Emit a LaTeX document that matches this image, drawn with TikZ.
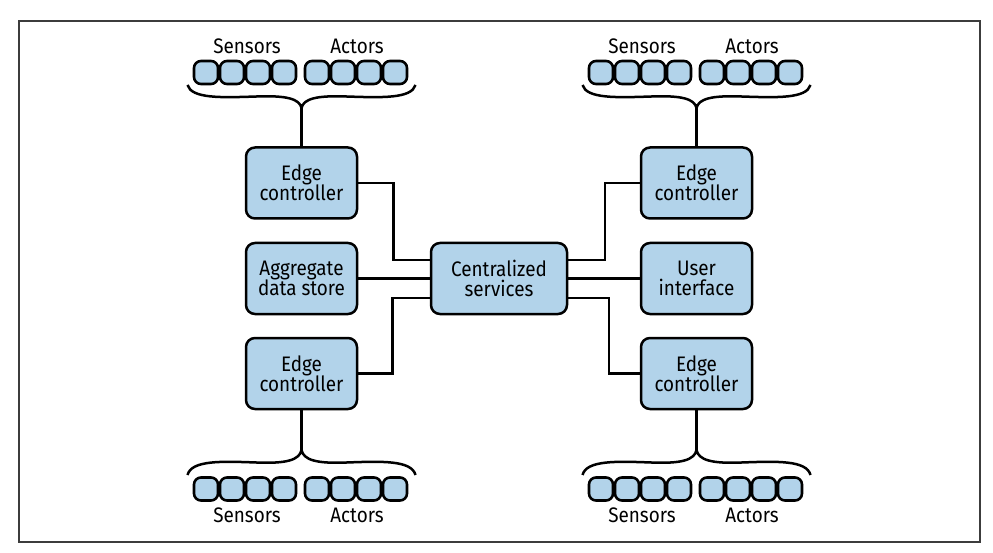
\documentclass[tikz,border=0pt]{standalone}
\usepackage{fontspec}
\setmainfont{Fira Sans}[FakeStretch=0.9]
\usepackage{tikz}
\usetikzlibrary{calc}
\definecolor{boxblue}{RGB}{178,211,234}
\definecolor{framegray}{RGB}{60,60,60}
\tikzset{
	box/.style={draw, line width=2.5pt, fill=boxblue, rounded corners=9pt,
		minimum width=111pt, minimum height=71pt, align=center, inner sep=2pt,
		font=\fontsize{21}{20.5}\selectfont},
	dev/.style={draw, line width=2.6pt, fill=boxblue, rounded corners=7pt,
		minimum width=24pt, minimum height=23pt, inner sep=0pt},
	lbl/.style={font=\fontsize{21}{21}\selectfont, inner sep=0pt},
	wire/.style={line width=2.5pt},
}

\begin{document}
\begin{tikzpicture}[x=1pt, y=-1pt]
		\useasboundingbox (0,0) rectangle (993,553);
		\draw[line width=1.6pt, framegray] (19,21) rectangle (980,542);
		% boxes
		\node[box] (ectl) at (301.5,183) {Edge\\controller};
		\node[box] (agg) at (301.5,278.5) {Aggregate\\data store};
		\node[box] (ecbl) at (301.5,373.5) {Edge\\controller};
		\node[box, minimum width=136pt] (cs) at (499,278.5) {Centralized\\services};
		\node[box] (ectr) at (696.5,183) {Edge\\controller};
		\node[box] (ui) at (696.5,278.5) {User\\interface};
		\node[box] (ecbr) at (696.5,373.5) {Edge\\controller};
		% sensors and actors
		\foreach \cl/\cx/\by/\ly/\ey/\ty in {tl/301.5/72.5/46/85/108, tr/696.5/72.5/46/85/108,
			bl/301.5/489/515/475/450, br/696.5/489/515/475/450} {
			\pgfmathsetmacro{\ya}{\ey+0.6*(\ty-\ey)}
			\pgfmathsetmacro{\yb}{\ey+0.55*(\ty-\ey)}
			\pgfmathsetmacro{\yc}{\ey+0.5*(\ty-\ey)}
			\pgfmathsetmacro{\yd}{\ey+0.45*(\ty-\ey)}
			\foreach \k in {0,...,3} {
				\node[dev] (\cl-s\k) at (\cx-95.5+26*\k, \by) {};
				\node[dev] (\cl-a\k) at (\cx+15.5+26*\k, \by) {};
			}
			\node[lbl] (\cl-sl) at (\cx-54.5, \ly) {Sensors};
			\node[lbl] (\cl-al) at (\cx+55.5, \ly) {Actors};
			\coordinate (\cl-tip) at (\cx, \ty);
			\draw[wire] (\cx-114, \ey) .. controls (\cx-110, \ya) and (\cx-80, \yb) .. (\cx-45, \yc)
				.. controls (\cx-15, \yd) and (\cx-2, \ya) .. (\cl-tip)
				.. controls (\cx+2, \ya) and (\cx+15, \yd) .. (\cx+45, \yc)
				.. controls (\cx+80, \yb) and (\cx+110, \ya) .. (\cx+114, \ey);
		}
		\draw[wire] (tl-tip) -- (ectl.north);
		\draw[wire] (tr-tip) -- (ectr.north);
		\draw[wire] (bl-tip) -- (ecbl.south);
		\draw[wire] (br-tip) -- (ecbr.south);
		% links to the centre
		\draw[wire] (ectl.east) -- ++(35,0) |- ($(cs.west)+(0,-18.5)$);
		\draw[wire] (agg.east) -- (cs.west);
		\draw[wire] ($(cs.west)+(0,19.5)$) -| ($(ecbl.east)+(34,0)$) -- (ecbl.east);
		\draw[wire] ($(cs.east)+(0,-18.5)$) -| ($(ectr.west)+(-35,0)$) -- (ectr.west);
		\draw[wire] (cs.east) -- (ui.west);
		\draw[wire] ($(cs.east)+(0,19.5)$) -| ($(ecbr.west)+(-31,0)$) -- (ecbr.west);
	\end{tikzpicture}
\end{document}
